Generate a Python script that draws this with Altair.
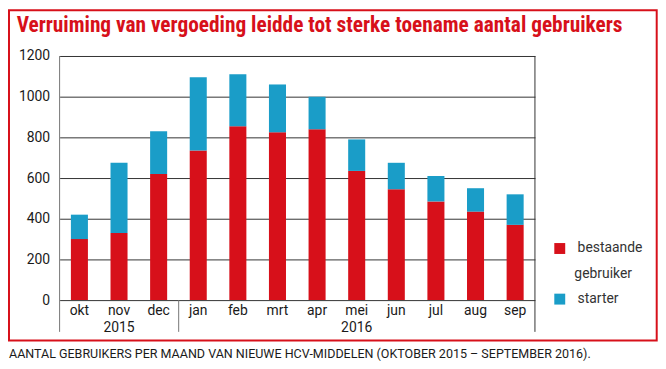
import altair as alt
import pandas as pd

months = ["okt", "nov", "dec", "jan", "feb", "mrt", "apr", "mei", "jun", "jul", "aug", "sep"]
bestaande = [300, 330, 620, 735, 855, 825, 840, 635, 545, 485, 435, 370]
starter = [120, 345, 210, 360, 255, 235, 160, 155, 130, 125, 115, 150]
series = ["bestaande gebruiker", "starter"]
colors = ["#d7101a", "#1a9dc8"]
years = ["2015", "2016"]
year_anchor = ["nov", "mei"]
y_ticks = [0, 200, 400, 600, 800, 1000, 1200]
title_text = "Verruiming van vergoeding leidde tot sterke toename aantal gebruikers"
caption_text = "AANTAL GEBRUIKERS PER MAAND VAN NIEUWE HCV-MIDDELEN (OKTOBER 2015 – SEPTEMBER 2016)."

rows = []
for i, m in enumerate(months):
    rows.append({"maand": m, "type": series[0], "waarde": bestaande[i], "ord": 0})
    rows.append({"maand": m, "type": series[1], "waarde": starter[i], "ord": 1})
df = pd.DataFrame(rows)

W, H = 479, 246
FONT = "Roboto"
TITLE_FONT = "Liberation Sans Narrow, Roboto Condensed, DejaVu Sans Condensed, Roboto"
TXT = "#1a1a1a"
RED = "#d7101a"

x_enc = alt.X(
    "maand:N",
    sort=months,
    scale=alt.Scale(domain=months, paddingInner=0.57, paddingOuter=0.285),
    axis=alt.Axis(title=None, labelAngle=0, domain=False, ticks=False, tickSize=0,
                  labelPadding=4, labelFontSize=14, labelColor=TXT, labelFont=FONT, grid=False),
)

bars = alt.Chart(df).mark_bar().encode(
    x=x_enc,
    y=alt.Y(
        "waarde:Q",
        stack="zero",
        scale=alt.Scale(domain=[0, 1200], nice=False),
        axis=alt.Axis(title=None, values=y_ticks, format="d", domain=False, ticks=False, tickSize=0,
                      labelPadding=10, labelFontSize=14, labelColor=TXT, labelFont=FONT,
                      grid=True, gridColor="#333333", gridWidth=1, gridOpacity=1),
    ),
    color=alt.Color(
        "type:N",
        scale=alt.Scale(domain=series, range=colors),
        legend=alt.Legend(title=None, orient="none", legendX=497, legendY=187,
                          symbolType="square", symbolSize=121, symbolStrokeWidth=0,
                          symbolOpacity=1, labelFontSize=14, labelFont=FONT,
                          labelColor="#333333", labelOffset=11, rowPadding=37, padding=0,
                          labelExpr="datum.label == 'bestaande gebruiker' ? 'bestaande' : datum.label"),
    ),
    order=alt.Order("ord:Q", sort="ascending"),
)

one = alt.Data(values=[{}])

left_rule = alt.Chart(one).mark_rule(color="#777777", strokeWidth=1).encode(
    x=alt.value(0), y=alt.value(0), y2=alt.value(278))
right_rule = alt.Chart(one).mark_rule(color="#333333", strokeWidth=1).encode(
    x=alt.value(W), y=alt.value(0), y2=alt.value(278))
sep_rule = alt.Chart(one).mark_rule(color="#777777", strokeWidth=1).encode(
    x=alt.value(120), y=alt.value(H), y2=alt.value(278))

year_df = pd.DataFrame({"maand": year_anchor, "year": years})
year_text = alt.Chart(year_df).mark_text(
    fontSize=14, font=FONT, color=TXT, baseline="alphabetic").encode(
    x=x_enc, y=alt.value(278.5), text="year:N")

gebruiker = alt.Chart(one).mark_text(
    fontSize=14, font=FONT, color="#333333", align="left", baseline="alphabetic").encode(
    x=alt.value(518.7), y=alt.value(224), text=alt.value("gebruiker"))

title = alt.Chart(one).mark_text(
    fontSize=21.5, font=TITLE_FONT, fontWeight="bold", color=RED, align="left",
    baseline="alphabetic").encode(
    x=alt.value(-43.3), y=alt.value(-24), text=alt.value(title_text))

caption = alt.Chart(one).mark_text(
    fontSize=12.6, font=FONT, color=TXT, align="left", baseline="alphabetic").encode(
    x=alt.value(-51), y=alt.value(304), text=alt.value(caption_text))

box = alt.Chart(one).mark_rect(filled=False, stroke=RED, strokeWidth=2).encode(
    x=alt.value(-51), x2=alt.value(601.7), y=alt.value(-46), y2=alt.value(286.7))

chart = alt.layer(box, bars, left_rule, right_rule, sep_rule, year_text, gebruiker, title, caption).properties(
    width=W,
    height=H,
    padding={"left": 52, "top": 47, "right": 124, "bottom": 60},
    autosize=alt.AutoSizeParams(type="none"),
).configure_view(stroke=None)

chart.save("out.html", embed_options={"renderer": "svg", "actions": False})
